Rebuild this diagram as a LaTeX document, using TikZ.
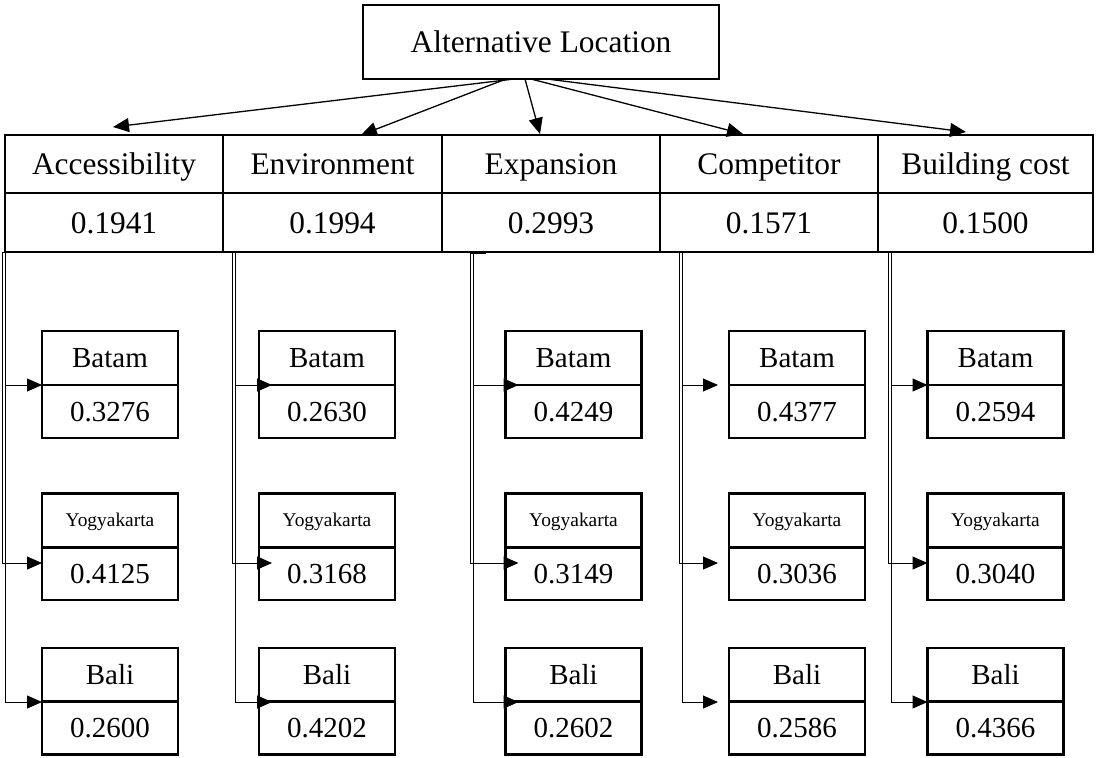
\documentclass[tikz,border=0pt]{standalone}
\usepackage{fontspec}
\setmainfont{Liberation Serif}
\usetikzlibrary{arrows.meta}
\begin{document}
\begin{tikzpicture}[x=0.5pt,y=-0.5pt]
\tikzset{
 cell/.style={draw, line width=1.1pt, inner sep=0pt, outer sep=0pt, text height=13.5pt, text depth=3pt, font=\fontsize{15.7}{18}\selectfont},
 hname/.style={cell, minimum height=29pt},
 hval/.style={cell, minimum height=29.5pt},
 sname/.style={cell, minimum width=68pt, minimum height=27pt, text height=12.6pt, font=\fontsize{14.5}{17}\selectfont},
 sval/.style={cell, minimum width=68pt, minimum height=26.5pt, text height=12.6pt, font=\fontsize{14.5}{17}\selectfont},
 ysmall/.style={text height=9.4pt, font=\fontsize{9.7}{11}\selectfont},
 topline/.style={line width=0.65pt, -{Triangle[length=8pt,width=7pt]}},
 conn/.style={line width=0.5pt, -{Triangle[length=7.5pt,width=6.5pt]}},
}
\useasboundingbox (0,0) rectangle (1098,757);
% top
\node[cell, minimum width=178pt, minimum height=37pt] (top) at (541,42) {Alternative Location};
% header
\node[hname, minimum width=109pt] (h1) at (114,164) {Accessibility};
\node[hval, minimum width=109pt] (v1) at (114,222.5) {0.1941};
\node[hname, minimum width=109.5pt] (h2) at (332.5,164) {Environment};
\node[hval, minimum width=109.5pt] (v2) at (332.5,222.5) {0.1994};
\node[hname, minimum width=109pt] (h3) at (551,164) {Expansion};
\node[hval, minimum width=109pt] (v3) at (551,222.5) {0.2993};
\node[hname, minimum width=109pt] (h4) at (769,164) {Competitor};
\node[hval, minimum width=109pt] (v4) at (769,222.5) {0.1571};
\node[hname, minimum width=107.5pt] (h5) at (985.5,164) {Building cost};
\node[hval, minimum width=107.5pt] (v5) at (985.5,222.5) {0.1500};
% top arrows
\coordinate (o1) at (514,79); \coordinate (t1) at (113,127);
\coordinate (o2) at (506,79); \coordinate (t2) at (361,135);
\coordinate (o3) at (525,79); \coordinate (t3) at (540,134);
\coordinate (o4) at (531,79); \coordinate (t4) at (743,134);
\coordinate (o5) at (547,79); \coordinate (t5) at (966,132);
\draw[topline] (o1) -- (t1);
\draw[topline] (o2) -- (t2);
\draw[topline] (o3) -- (t3);
\draw[topline] (o4) -- (t4);
\draw[topline] (o5) -- (t5);
% sub boxes
\foreach \i/\cx/\ba/\yo/\bl in {1/110/0.3276/0.4125/0.2600, 2/327/0.2630/0.3168/0.4202, 3/573.5/0.4249/0.3149/0.2602, 4/797/0.4377/0.3036/0.2586, 5/995.5/0.2594/0.3040/0.4366}{
  \node[sname] (bn\i) at (\cx,358) {Batam};
  \node[sval] (bv\i) at (\cx,411.5) {\ba};
  \node[sname, ysmall] (yn\i) at (\cx,520.5) {Yogyakarta};
  \node[sval] (yv\i) at (\cx,573.5) {\yo};
  \node[sname] (ln\i) at (\cx,675) {Bali};
  \node[sval] (lv\i) at (\cx,728) {\bl};
}
% connectors
\coordinate (s1) at (18,252);
\coordinate (s2) at (248,252);
\coordinate (s3) at (486,253);
\coordinate (s4) at (695,252);
\coordinate (s5) at (904,252);
\foreach \i/\dx in {1/0pt, 2/6.5pt, 3/6.5pt, 4/-5.5pt, 5/0pt}{
  \draw[conn] (s\i) -- ++(-13,0) |- ([xshift=\dx]bn\i.south west);
  \draw[conn] (s\i) -- ++(-16,0) |- ([xshift=\dx,yshift=5.25pt]yv\i.west);
  \draw[conn] (s\i) -- ++(-13,0) |- ([xshift=\dx]ln\i.south west);
}
\end{tikzpicture}
\end{document}
